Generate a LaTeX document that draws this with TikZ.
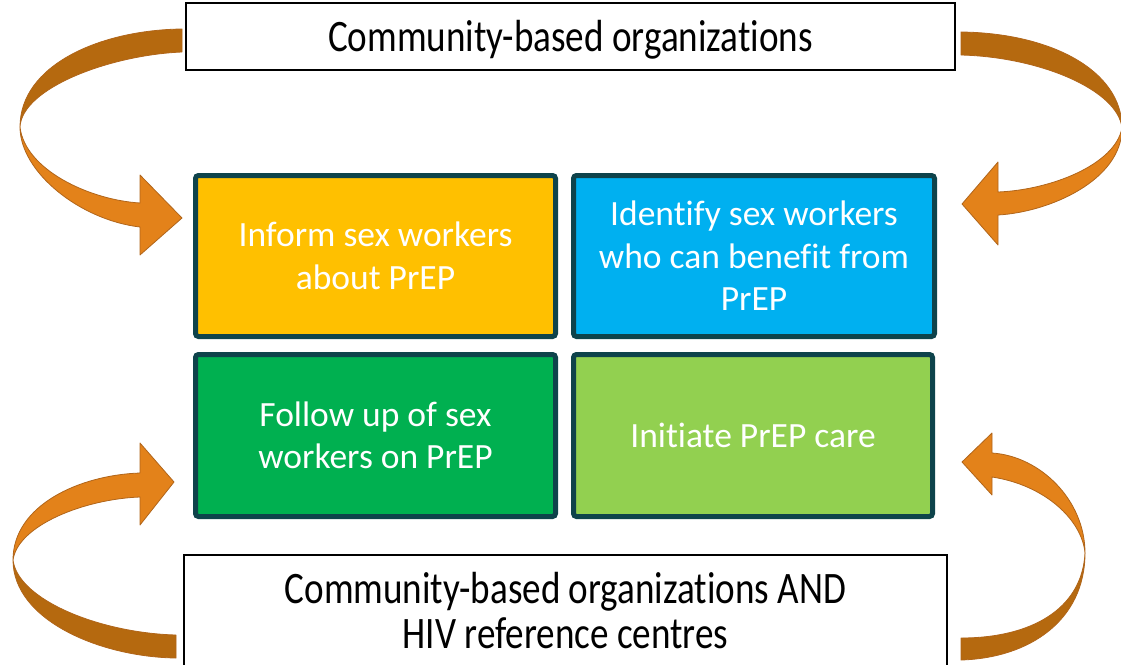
\documentclass[tikz,border=0pt]{standalone}
\usepackage{fontspec}
\setmainfont{Carlito}[Ligatures={NoCommon}]
\usepackage{graphicx}
\definecolor{brownc}{HTML}{B5690F}
\definecolor{orangec}{HTML}{E3821A}
\definecolor{edgec}{HTML}{B0651A}
\definecolor{bordc}{HTML}{0E434B}
\definecolor{yellowc}{HTML}{FFC000}
\definecolor{bluec}{HTML}{00B0F0}
\definecolor{greenc}{HTML}{00B050}
\definecolor{lgreenc}{HTML}{92D050}
\tikzset{
  cbox/.style={draw=bordc, line width=5pt, rounded corners=3pt, text=white, align=center,
    inner sep=0pt, font=\fontsize{35.5}{42.5}\selectfont},
  wbox/.style={draw=black, line width=2pt, fill=white, align=center, inner sep=0pt,
    font=\fontsize{45}{45}\selectfont},
  wtext/.style={align=center, inner sep=0pt, font=\fontsize{45}{45}\selectfont},
  tailpart/.style={fill=brownc, draw=edgec, line width=0.8pt, line join=round},
  headpart/.style={fill=orangec, draw=edgec, line width=0.8pt, line join=round}
}
\newcommand{\sq}[1]{\scalebox{0.825}[1]{#1}}
\begin{document}
\begin{tikzpicture}[x=1pt,y=-1pt]
\useasboundingbox (0,0) rectangle (1121,664);
% top-left arrow
\path[tailpart] (182,29) .. controls (100,30) and (20,65) .. (20,127)
  .. controls (22,88) and (110,55) .. (182,52) -- cycle;
\path[headpart] (20,127) .. controls (20,172) and (80,220) .. (140,227) -- (140,255) -- (182,218)
  -- (140,175) -- (140,203) .. controls (90,200) and (25,170) .. (20,127) -- cycle;
% top-right arrow
\path[tailpart] (961,32) .. controls (1050,33) and (1122,70) .. (1122,128)
  .. controls (1118,90) and (1040,57) .. (961,55) -- cycle;
\path[headpart] (1122,128) .. controls (1122,180) and (1050,212) .. (998,215) -- (998,245) -- (962,204)
  -- (998,162) -- (998,192) .. controls (1050,190) and (1115,165) .. (1122,128) -- cycle;
% bottom-left arrow
\path[tailpart] (13,560) .. controls (13,620) and (100,657) .. (176,658) -- (176,635)
  .. controls (100,633) and (18,600) .. (13,560) -- cycle;
\path[headpart] (13,560) .. controls (13,505) and (80,475) .. (140,473) -- (140,443) -- (174,482)
  -- (140,525) -- (140,497) .. controls (85,499) and (18,525) .. (13,560) -- cycle;
% bottom-right arrow
\path[tailpart] (1085,553) .. controls (1085,620) and (1030,658) .. (961,660) -- (961,638)
  .. controls (1030,638) and (1082,610) .. (1085,553) -- cycle;
\path[headpart] (1085,553) .. controls (1085,500) and (1040,456) .. (992,453) -- (992,433) -- (962,462)
  -- (992,495) -- (992,477) .. controls (1045,485) and (1082,520) .. (1085,553) -- cycle;
% white boxes
\node[wbox, minimum width=769pt, minimum height=67pt] (cbo) at (570.5,36.5) {};
\node[wtext] (cbotext) at ([yshift=-3pt]cbo.center) {\sq{Community-based organizations}};
\node[wbox, minimum width=763pt, minimum height=112pt] (cbohiv) at (565.5,610.5)
  {\sq{Community-based organizations AND}\\\sq{HIV reference centres}};
% coloured boxes
\node[cbox, fill=yellowc, minimum width=360pt, minimum height=161pt] (inform) at (375.5,256) {Inform sex workers\\about PrEP};
\node[cbox, fill=bluec, minimum width=361pt, minimum height=161pt] (identify) at (754,256) {Identify sex workers\\who can benefit from\\PrEP};
\node[cbox, fill=greenc, minimum width=360pt, minimum height=162pt] (follow) at (375.5,435.5) {Follow up of sex\\workers on PrEP};
\node[cbox, fill=lgreenc, minimum width=359pt, minimum height=162pt] (initiate) at (753,435.5) {Initiate PrEP care};
\end{tikzpicture}
\end{document}
